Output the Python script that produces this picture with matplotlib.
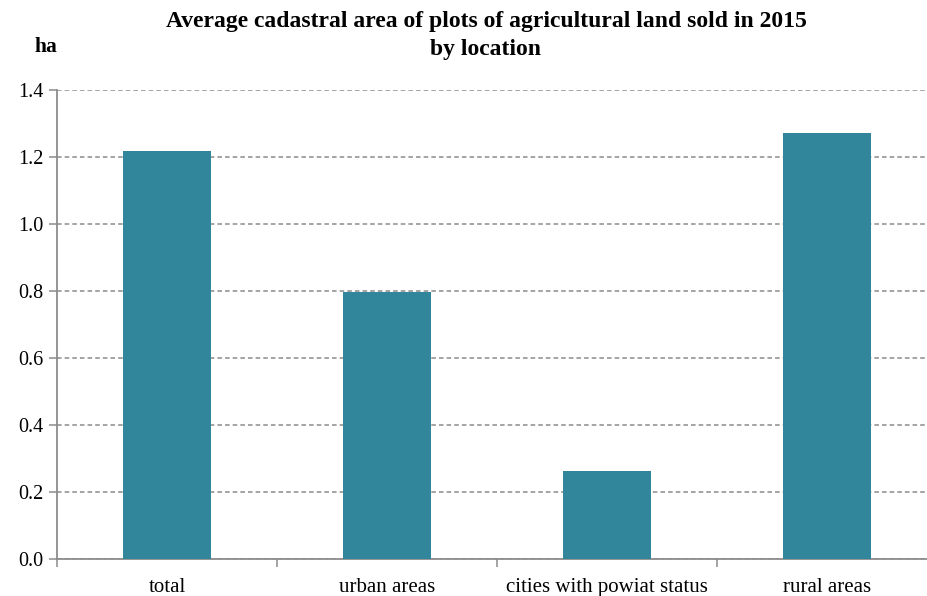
import matplotlib
matplotlib.use("Agg")
import matplotlib.pyplot as plt
import numpy as np

categories = ["total", "urban areas", "cities with powiat status", "rural areas"]
values = [1.217, 0.797, 0.263, 1.272]
yticks = [0.0, 0.2, 0.4, 0.6, 0.8, 1.0, 1.2, 1.4]

plt.rcParams["font.family"] = ["Liberation Serif", "DejaVu Serif"]

W, H = 928, 596
fig = plt.figure(figsize=(W / 100, H / 100), dpi=100)
ax = fig.add_axes([57 / W, (H - 559) / H, 880 / W, 469 / H])

x = np.arange(len(categories))
ax.bar(x, values, width=0.4, color="#31869b", zorder=3)

ax.set_xlim(-0.5, len(categories) - 0.5)
ax.set_ylim(0, 1.4)
ax.set_yticks(yticks)
ax.set_yticklabels([f"{v:.1f}" for v in yticks], fontsize=14.5)
ax.yaxis.grid(True, linestyle=(0, (3, 2)), color="#8c8c8c", linewidth=1.1, zorder=0)

ax.set_xticks(np.arange(-0.5, len(categories), 1.0))
ax.set_xticklabels([])
ax.set_xticks(x, minor=True)
ax.set_xticklabels(categories, minor=True, fontsize=15)
ax.tick_params(axis="x", which="minor", length=0, pad=14)
ax.tick_params(axis="x", which="major", length=6, color="#8c8c8c", width=1.1)
ax.tick_params(axis="y", length=6, color="#8c8c8c", width=1.1, pad=4)

for s in ["top", "right"]:
    ax.spines[s].set_visible(False)
for s in ["left", "bottom"]:
    ax.spines[s].set_color("#8c8c8c")
    ax.spines[s].set_linewidth(1.3)

fig.text(486 / W, 1 - 22 / H, "Average cadastral area of plots of agricultural land sold in 2015",
         ha="center", va="center", fontsize=17, fontweight="bold")
fig.text(486 / W, 1 - 49 / H, "by location", ha="center", va="center", fontsize=17, fontweight="bold")
fig.text(35 / W, 1 - 47 / H, "ha", ha="left", va="center", fontsize=15.5, fontweight="bold")

fig.savefig("out.png", dpi=100)
